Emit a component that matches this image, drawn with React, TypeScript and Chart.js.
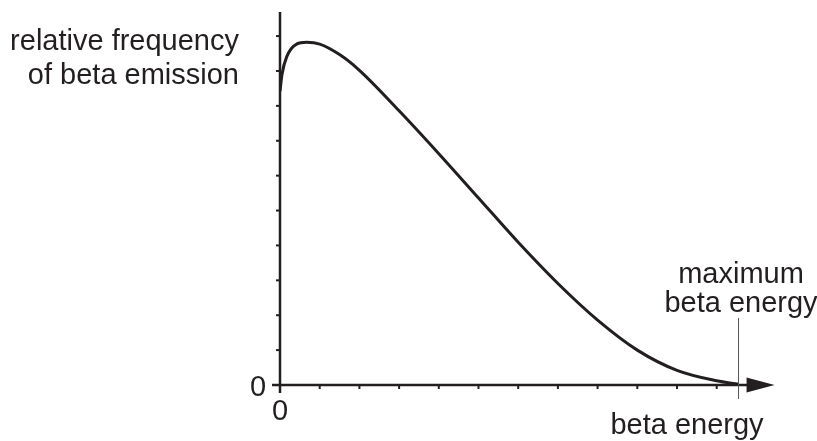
import React, { useEffect, useRef } from "react";
import { Chart, registerables } from "chart.js";

Chart.register(...registerables);

const energy = [0, 0.05, 0.17, 0.42, 0.67, 1.0, 1.5, 2, 3, 4, 5, 6, 7, 8, 9, 10, 11, 11.55];
const frequency = [8.42, 8.9, 9.41, 9.77, 9.82, 9.77, 9.47, 9.02, 7.86, 6.63, 5.36, 4.09, 2.91, 1.86, 1.0, 0.42, 0.12, 0.02];
const yTicks = [1, 2, 3, 4, 5, 6, 7, 8, 9, 10];
const xTicks = [1, 2, 3, 4, 5, 6, 7, 8, 9, 10, 11];
const maxEnergy = 11.55;
const yLabelLines = ["relative frequency", "of beta emission"];
const xLabel = "beta energy";
const maxLabelLines = ["maximum", "beta energy"];

const INK = "#231f20";
const FONT = "29px 'Liberation Sans', Arial, sans-serif";

const axesPlugin = {
  id: "axesPlugin",
  afterDraw(chart: any) {
    const ctx = chart.ctx as CanvasRenderingContext2D;
    const xs = chart.scales.x;
    const ys = chart.scales.y;
    const x0 = xs.getPixelForValue(0);
    const y0 = ys.getPixelForValue(0);
    const yTop = ys.getPixelForValue(ys.max);
    const xMax = xs.getPixelForValue(maxEnergy);
    ctx.save();
    ctx.strokeStyle = INK;
    ctx.fillStyle = INK;
    ctx.lineWidth = 2.5;
    ctx.beginPath();
    ctx.moveTo(x0, yTop);
    ctx.lineTo(x0, y0 + 8);
    ctx.stroke();
    ctx.beginPath();
    ctx.moveTo(x0 - 8, y0);
    ctx.lineTo(xMax + 10, y0);
    ctx.stroke();
    ctx.beginPath();
    ctx.moveTo(xMax + 8, y0 - 7.5);
    ctx.lineTo(xMax + 36, y0);
    ctx.lineTo(xMax + 8, y0 + 7.5);
    ctx.closePath();
    ctx.fill();
    ctx.lineWidth = 2;
    yTicks.forEach((v) => {
      const p = ys.getPixelForValue(v);
      ctx.beginPath();
      ctx.moveTo(x0 - 4, p);
      ctx.lineTo(x0, p);
      ctx.stroke();
    });
    xTicks.forEach((v) => {
      const p = xs.getPixelForValue(v);
      ctx.beginPath();
      ctx.moveTo(p, y0);
      ctx.lineTo(p, y0 + 4);
      ctx.stroke();
    });
    ctx.strokeStyle = "#555";
    ctx.lineWidth = 1;
    ctx.beginPath();
    ctx.moveTo(xMax, y0 - 67);
    ctx.lineTo(xMax, y0 + 14);
    ctx.stroke();
    ctx.fillStyle = INK;
    ctx.font = FONT;
    ctx.textBaseline = "alphabetic";
    ctx.textAlign = "right";
    ctx.fillText(yLabelLines[0], 239, 50);
    ctx.fillText(yLabelLines[1], 239, 84);
    ctx.textAlign = "center";
    ctx.fillText("0", x0 - 22, y0 + 11);
    ctx.fillText("0", x0, y0 + 35);
    ctx.fillText(xLabel, 687, 434);
    ctx.fillText(maxLabelLines[0], 741, 283);
    ctx.fillText(maxLabelLines[1], 741, 312);
    ctx.restore();
  },
};

export default function App() {
  const ref = useRef<HTMLCanvasElement>(null);
  useEffect(() => {
    if (!ref.current) return;
    const chart = new Chart(ref.current, {
      type: "line",
      data: {
        datasets: [
          {
            data: energy.map((e, i) => ({ x: e, y: frequency[i] })),
            borderColor: INK,
            borderWidth: 3,
            pointRadius: 0,
            fill: false,
            cubicInterpolationMode: "monotone",
          },
        ],
      },
      options: {
        responsive: false,
        animation: false,
        layout: { padding: { left: 280, top: 12, right: 60.6, bottom: 56 } },
        plugins: { legend: { display: false }, tooltip: { enabled: false } },
        scales: {
          x: { type: "linear", min: 0, max: 12, display: false },
          y: { type: "linear", min: 0, max: 10.69, display: false },
        },
      },
      plugins: [axesPlugin],
    });
    return () => chart.destroy();
  }, []);
  return (
    <div style={{ position: "fixed", left: 0, top: 0, width: 817, height: 441, background: "#fff" }}>
      <canvas ref={ref} width={817} height={441} />
    </div>
  );
}
